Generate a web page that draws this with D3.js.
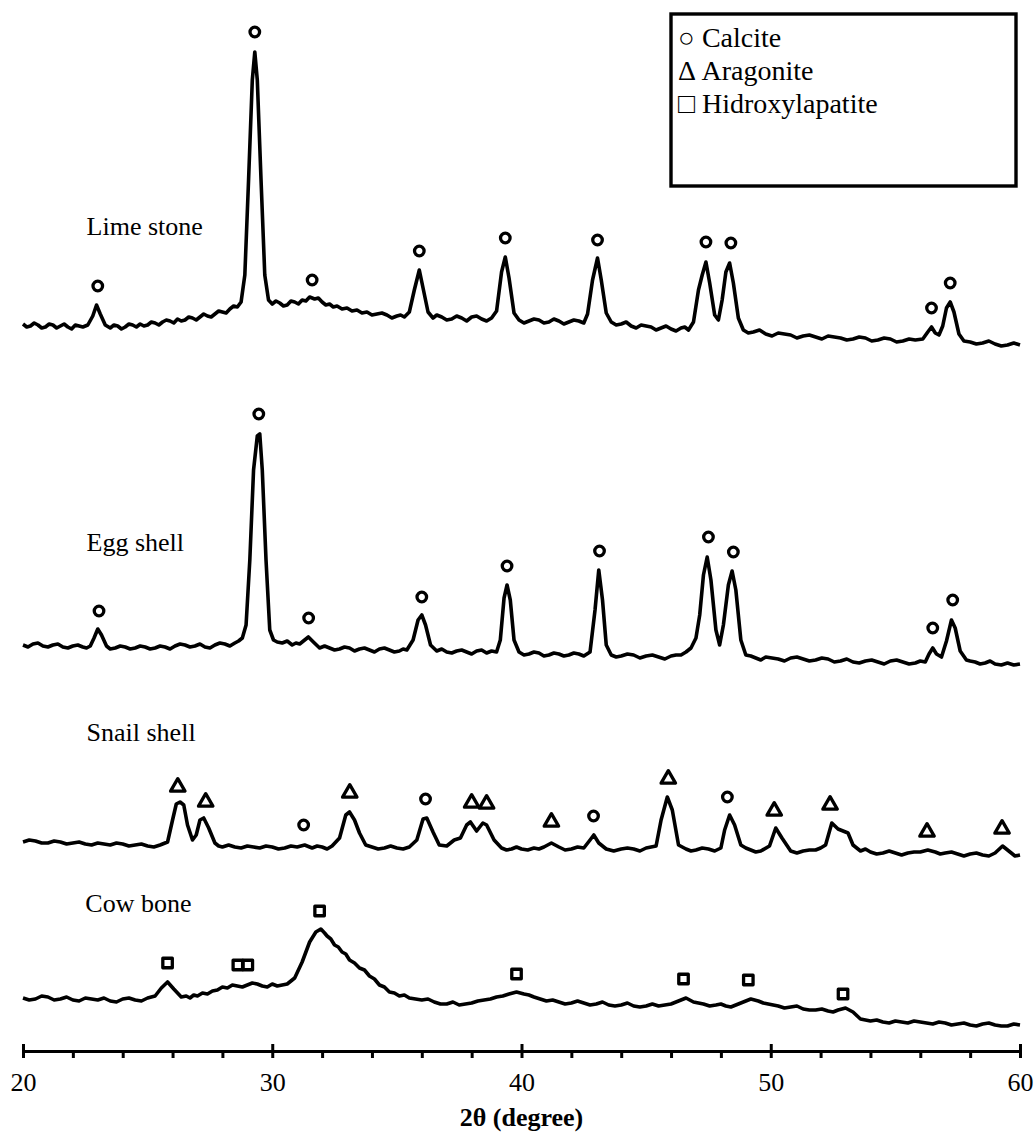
<!DOCTYPE html>
<html>
<head>
<meta charset="utf-8">
<script src="https://cdn.jsdelivr.net/npm/d3@7"></script>
<style>
  body { margin: 0; background: #fff; }
  svg { display: block; }
  text { font-family: "Liberation Serif", "Times New Roman", serif; }
</style>
</head>
<body>
<div id="chart"></div>
<script>
// XRD patterns, 2theta (deg) vs intensity (a.u., traces stacked)
const majorTicks = [20, 30, 40, 50, 60];
const minorTicks = [22, 24, 26, 28, 32, 34, 36, 38, 42, 44, 46, 48, 52, 54, 56, 58];

const limeStone = [
  [20.0,727],[20.15,724],[20.3,725],[20.45,728],[20.6,726],[20.75,723],[20.9,724],[21.05,727],[21.2,726],[21.35,723],
  [21.5,725],[21.65,727],[21.8,724],[21.95,722],[22.1,726],[22.25,725],[22.4,724],[22.6,726],
  [22.8,735],[22.95,746],[23.1,737],[23.3,726],[23.5,723],[23.65,726],[23.8,725],[23.95,722],[24.1,724],[24.25,727],
  [24.4,726],[24.55,724],[24.7,727],[24.85,725],[25.0,726],[25.15,729],
  [25.3,728],[25.45,726],[25.6,729],[25.75,731],[25.9,730],[26.05,728],[26.2,732],[26.35,730],[26.5,731],[26.65,734],
  [26.8,733],[26.95,731],[27.1,734],[27.25,737],[27.4,735],[27.55,734],[27.7,737],[27.85,740],[28.0,739],[28.15,738],
  [28.3,742],[28.45,745],[28.6,744],[28.75,749],[28.9,776],[29.05,871],[29.2,971],[29.3,999],[29.4,971],[29.55,871],[29.7,776],
  [29.85,751],[30.0,747],[30.15,750],[30.3,748],[30.45,745],[30.6,746],[30.75,750],[30.9,749],[31.05,747],[31.2,751],
  [31.35,750],[31.5,754],[31.7,752],[31.85,753],[32.0,749],[32.15,746],[32.3,747],[32.45,744],
  [32.6,745],[32.8,742],[33.0,743],[33.2,740],[33.4,741],[33.6,738],[33.8,739],[34.0,736],[34.2,737],[34.4,738],
  [34.6,736],[34.8,733],[35.0,735],[35.15,736],[35.3,734],[35.5,739],[35.7,761],
  [35.9,781],[36.05,763],[36.25,739],[36.45,733],[36.6,736],[36.8,734],[37.0,731],[37.2,732],[37.4,735],[37.6,733],
  [37.8,730],[38.0,734],[38.2,735],[38.4,732],[38.6,730],[38.8,733],
  [39.0,740],[39.2,779],[39.35,794],[39.5,773],[39.7,738],[39.9,731],[40.1,728],[40.3,730],[40.5,732],[40.7,731],
  [40.9,728],[41.1,729],[41.3,732],[41.5,730],[41.7,727],
  [41.9,729],[42.1,731],[42.3,730],[42.5,728],[42.65,737],[42.85,771],[43.05,793],[43.2,771],[43.4,738],[43.6,729],
  [43.8,726],[44.0,727],[44.2,729],[44.4,725],[44.6,723],
  [44.8,726],[45.0,725],[45.2,724],[45.4,721],[45.6,723],[45.8,725],[46.0,722],[46.2,720],[46.4,723],[46.55,724],
  [46.7,721],[46.9,729],[47.1,761],[47.25,776],[47.4,789],
  [47.55,768],[47.75,736],[47.9,731],[48.05,751],[48.2,779],[48.35,788],[48.5,768],[48.7,733],[48.9,721],[49.1,718],
  [49.3,719],[49.55,721],[49.8,717],[50.05,715],[50.3,718],[50.55,717],[50.8,716],[51.05,713],[51.3,715],[51.55,716],
  [51.8,714],[52.05,712],[52.3,715],[52.55,714],[52.8,713],[53.05,711],[53.3,712],[53.55,714],[53.8,713],[54.05,710],
  [54.3,711],[54.55,713],[54.8,712],[55.05,709],[55.3,710],[55.55,712],[55.8,711],[56.1,712],[56.3,719],[56.45,724],
  [56.6,718],[56.75,716],[56.9,725],[57.05,743],
  [57.2,749],[57.35,739],[57.55,717],[57.75,710],[58.0,709],[58.25,707],[58.5,708],[58.75,710],[59.0,707],[59.25,705],
  [59.5,706],[59.75,708],[60.0,706]
];

const eggShell = [
  [20.0,406],[20.2,404],[20.4,407],[20.6,408],[20.8,405],[21.0,404],[21.2,406],[21.4,407],[21.6,404],[21.8,403],
  [22.0,405],[22.2,406],[22.4,404],[22.55,403],[22.7,405],[22.85,413],[23.0,422],
  [23.15,416],[23.35,405],[23.5,402],[23.7,403],[23.9,405],[24.1,404],[24.3,402],[24.5,403],[24.7,405],[24.9,404],
  [25.1,402],[25.3,403],[25.5,405],[25.7,404],[25.9,402],[26.1,405],[26.3,407],[26.5,406],
  [26.7,404],[26.9,405],[27.1,407],[27.3,404],[27.5,403],[27.7,406],[27.9,408],[28.1,407],[28.3,405],[28.5,408],
  [28.65,410],[28.8,413],[28.95,426],[29.1,491],[29.25,581],[29.4,615],
  [29.5,617],[29.6,581],[29.75,491],[29.9,421],[30.05,411],[30.2,409],[30.4,408],[30.6,410],[30.8,406],[30.95,408],
  [31.1,407],[31.3,411],[31.45,414],
  [31.65,409],[31.9,403],[32.1,405],[32.3,403],[32.5,401],[32.7,402],[32.9,404],[33.1,403],[33.3,400],[33.5,402],
  [33.7,403],[33.9,401],[34.1,399],[34.3,402],[34.5,403],[34.7,401],[34.9,399],[35.1,400],
  [35.25,402],[35.4,401],[35.65,411],[35.85,431],[36.0,436],[36.15,426],[36.35,406],[36.6,400],[36.8,402],[37.0,399],
  [37.2,398],[37.4,400],[37.6,401],[37.8,399],
  [38.0,397],[38.2,400],[38.4,401],[38.6,398],[38.8,400],[39.0,399],[39.15,411],[39.3,453],[39.42,466],[39.55,451],
  [39.7,411],[39.9,399],[40.1,396],[40.3,397],
  [40.5,399],[40.7,398],[40.9,395],[41.1,396],[41.3,398],[41.5,397],[41.7,395],[41.9,396],[42.1,398],[42.3,397],
  [42.5,395],[42.75,399],[42.95,441],[43.1,481],[43.25,451],[43.4,406],
  [43.6,396],[43.8,394],[44.0,395],[44.25,397],[44.5,396],[44.75,393],[45.0,395],[45.25,396],[45.5,394],[45.75,392],
  [46.0,395],[46.2,396],[46.4,396],[46.6,399],[46.8,403],[47.0,413],[47.15,436],
  [47.3,476],[47.45,494],[47.6,471],[47.8,421],[47.95,406],[48.1,426],[48.3,466],[48.45,480],[48.6,461],[48.8,411],
  [49.0,396],[49.2,395],[49.4,393],[49.6,391],[49.8,394],[50.05,393],[50.3,392],[50.55,390],[50.8,393],[51.05,394],
  [51.3,392],[51.55,390],[51.8,391],[52.05,393],[52.3,392],[52.55,389],[52.8,390],[53.05,392],[53.3,389],
  [53.55,388],[53.8,390],[54.05,391],[54.3,389],[54.55,387],[54.8,390],[55.05,391],[55.3,389],[55.55,387],[55.8,388],
  [56.0,390],[56.2,389],[56.35,397],[56.5,403],[56.65,397],[56.85,394],
  [57.05,410],[57.25,431],[57.4,423],[57.6,400],[57.85,391],[58.0,390],[58.2,389],[58.4,387],[58.6,388],[58.8,390],
  [59.0,387],[59.25,386],[59.5,388],[59.75,386],[60.0,387]
];

const snailShell = [
  [20.0,209],[20.25,211],[20.5,210],[20.75,208],[21.0,208],[21.25,210],[21.5,209],[21.75,207],[22.0,208],[22.25,209],
  [22.5,207],[22.75,206],[23.0,208],[23.25,207],[23.5,206],[23.75,208],[24.0,207],[24.25,205],[24.5,206],[24.75,207],
  [25.0,205],[25.25,204],[25.5,206],[25.8,209],[26.0,231],[26.15,247],[26.3,249],[26.45,246],[26.6,226],[26.8,211],[26.95,216],
  [27.1,231],[27.25,233],[27.45,223],[27.7,208],[27.85,205],[28.0,204],[28.25,206],[28.5,204],[28.75,203],[29.0,205],
  [29.25,204],[29.5,203],[29.75,205],[30.0,204],[30.25,202],[30.5,203],[30.75,205],
  [31.0,204],[31.3,206],[31.6,203],[31.8,205],[32.0,204],[32.2,202],[32.4,205],[32.7,213],[32.95,236],[33.1,239],[33.3,231],[33.5,218],
  [33.75,206],[34.0,204],[34.25,202],[34.5,203],[34.75,205],[35.0,203],[35.25,202],[35.5,204],[35.8,211],[36.05,232],
  [36.2,233],[36.45,219],[36.7,206],
  [37.0,205],[37.3,211],[37.55,213],[37.8,226],[37.95,229],[38.2,220],[38.45,228],[38.6,226],[38.9,211],[39.2,203],
  [39.4,201],[39.6,202],[39.8,204],[40.0,202],[40.25,201],[40.5,203],[40.7,202],[40.9,204],[41.2,208],[41.5,204],
  [41.75,201],[42.0,202],[42.25,204],[42.5,203],[42.75,211],[42.9,216],
  [43.1,208],[43.4,202],[43.7,200],[44.0,202],[44.25,203],[44.5,202],[44.75,200],[45.0,203],[45.4,205],[45.6,231],
  [45.85,254],[46.05,241],[46.3,206],
  [46.6,202],[46.8,200],[47.0,201],[47.25,203],[47.5,202],[47.75,200],[48.0,203],[48.15,221],[48.35,236],[48.55,226],
  [48.8,206],[49.0,203],[49.2,201],[49.4,199],[49.6,200],
  [49.95,205],[50.2,223],[50.45,213],[50.8,200],[51.05,198],[51.3,200],[51.55,201],[51.8,201],[52.0,203],[52.2,206],
  [52.45,228],[52.7,222],[52.9,220],
  [53.1,218],[53.3,206],[53.6,200],[53.8,202],[54.0,199],[54.25,197],[54.5,198],[54.75,200],[55.0,198],[55.25,196],
  [55.5,198],[55.75,199],[56.0,199],[56.3,201],[56.6,199],
  [56.8,197],[57.0,198],[57.25,199],[57.5,197],[57.75,195],[58.0,197],[58.25,198],[58.5,196],[58.75,195],[59.0,198],
  [59.3,205],[59.55,200],[59.8,195],[60.0,196]
];

const cowBone = [
  [20.0,53],[20.25,51],[20.5,52],[20.75,55],[21.0,54],[21.25,51],[21.5,52],[21.75,54],[22.0,51],[22.25,50],
  [22.5,53],[22.75,52],[23.0,51],[23.25,53],[23.5,50],[23.75,49],[24.0,52],[24.25,53],[24.5,51],[24.75,50],
  [25.0,53],[25.3,55],[25.55,63],[25.8,69],[26.05,62],[26.35,54],[26.55,55],[26.7,53],[26.85,56],[27.0,55],
  [27.2,58],[27.4,57],[27.6,60],[27.8,61],[28.0,64],[28.2,63],[28.4,66],[28.6,65],[28.8,64],[29.0,66],[29.2,68],
  [29.4,67],[29.6,65],[29.8,64],[30.0,67],[30.2,65],[30.4,66],[30.6,67],[30.9,73],[31.2,89],[31.5,109],
  [31.75,119],[31.95,122],[32.1,118],[32.2,115],[32.35,112],[32.5,106],[32.65,104],[32.8,99],[32.95,97],[33.1,91],
  [33.3,88],[33.5,83],[33.7,81],[33.9,75],[34.1,72],[34.3,66],[34.5,64],[34.7,59],[34.9,58],
  [35.1,55],[35.3,56],[35.5,53],[35.75,52],[36.0,51],[36.25,52],[36.5,49],[36.75,47],[37.0,47],[37.25,49],[37.5,46],
  [37.75,47],[38.0,48],[38.25,50],[38.5,51],[38.75,52],[39.0,54],[39.25,55],[39.5,57],
  [39.8,59],[40.1,57],[40.3,56],[40.5,54],[40.75,52],[41.0,50],[41.25,51],[41.5,49],[41.75,47],[42.0,48],[42.25,50],
  [42.5,48],[42.75,46],[43.0,47],[43.25,49],[43.5,46],[43.75,45],[44.0,46],
  [44.25,48],[44.5,45],[44.75,44],[45.0,45],[45.25,47],[45.5,45],[45.75,46],[46.0,47],[46.3,50],[46.6,53],[46.9,49],
  [47.1,48],[47.3,47],[47.55,45],[47.8,46],[48.0,47],[48.2,45],
  [48.4,44],[48.6,46],[48.9,49],[49.2,52],[49.5,50],[49.7,48],[49.9,47],[50.1,46],[50.3,45],[50.55,43],[50.8,44],
  [51.05,45],[51.3,42],[51.55,41],[51.8,41],[52.05,42],[52.3,40],
  [52.5,39],[52.7,41],[53.0,43],[53.3,39],[53.6,32],[53.8,31],[54.0,30],[54.25,31],[54.5,29],[54.75,28],[55.0,30],
  [55.25,29],[55.5,28],[55.75,30],[56.0,29],[56.25,28],[56.5,27],
  [56.75,29],[57.0,28],[57.25,26],[57.5,27],[57.75,28],[58.0,26],[58.25,25],[58.5,27],[58.75,28],[59.0,26],
  [59.25,25],[59.5,25],[59.75,27],[60.0,26]
];

// phase markers: [2theta, intensity]
const calciteMarks = [
  [23.0,765],[29.3,1019],[31.6,771],[35.9,800],[39.35,813],[43.05,811],[47.4,809],[48.4,808],[56.45,743],[57.2,768],
  [23.05,440],[29.46,637],[31.46,433],[36.0,454],[39.42,485],[43.13,500],[47.5,514],[48.5,499],[56.5,423],[57.3,451],
  [31.26,226],[36.15,252],[42.89,235],[48.26,254]
];
const aragoniteMarks = [
  [26.21,264],[27.33,249],[33.11,258],[38.0,248],[38.6,247],[41.2,229],[45.89,272],[50.14,240],[52.38,246],
  [56.27,219],[59.28,222]
];
const hapMarks = [
  [25.8,88],[28.62,86],[29.02,86],[31.9,140],[39.8,77],[46.5,72],[49.1,71],[52.9,57]
];

const sampleNames = ["Lime stone", "Egg shell", "Snail shell", "Cow bone"];
const sampleLabelPos = [[22.55, 816], [22.55, 500], [22.55, 310], [22.5, 139]];
const legendLabels = ["\u25CB Calcite", "\u0394 Aragonite", "\u25A1 Hidroxylapatite"];

const W = 1035, H = 1135;
const svg = d3.select("#chart").append("svg")
    .attr("width", W)
    .attr("height", H);

const x = d3.scaleLinear().domain([20, 60]).range([23, 1020]);
const y = d3.scaleLinear().domain([0, 1040]).range([1051, 11]);

// traces
const line = d3.line()
    .x(d => x(d[0]))
    .y(d => y(d[1]));

[limeStone, eggShell, snailShell, cowBone].forEach(function (s) {
    svg.append("path")
        .datum(s)
        .attr("d", line)
        .attr("fill", "none")
        .attr("stroke", "#000")
        .attr("stroke-width", 3.6)
        .attr("stroke-linejoin", "round");
});

// phase symbols
function addMarks(data, type, size) {
    svg.append("g")
        .selectAll("path")
        .data(data)
        .enter()
        .append("path")
        .attr("transform", d => "translate(" + x(d[0]) + "," + y(d[1]) + ")")
        .attr("d", d3.symbol().type(type).size(size))
        .attr("fill", "none")
        .attr("stroke", "#000")
        .attr("stroke-width", 3.3)
        .attr("stroke-linejoin", "round");
}
addMarks(calciteMarks, d3.symbolCircle, 72);
addMarks(aragoniteMarks, d3.symbolTriangle, 90);
addMarks(hapMarks, d3.symbolSquare, 90);

// sample names
svg.append("g")
    .selectAll("text")
    .data(sampleNames)
    .enter()
    .append("text")
    .attr("x", (d, i) => x(sampleLabelPos[i][0]))
    .attr("y", (d, i) => y(sampleLabelPos[i][1]))
    .attr("font-size", 26)
    .text(d => d);

// x axis
const axisY = y(0);
const gx = svg.append("g")
    .attr("transform", "translate(0," + axisY + ")")
    .call(d3.axisBottom(x).tickValues(majorTicks).tickSize(7).tickSizeOuter(0).tickPadding(15));
gx.select(".domain").attr("stroke-width", 3.2);
gx.selectAll(".tick line").attr("y1", -7).attr("stroke-width", 3);
gx.selectAll(".tick text")
    .attr("font-size", 26)
    .attr("fill", "#000");

svg.append("g")
    .attr("transform", "translate(0," + axisY + ")")
    .call(d3.axisBottom(x).tickValues(minorTicks).tickSize(7).tickSizeOuter(0).tickFormat(""))
    .call(g => g.select(".domain").remove())
    .selectAll(".tick line").attr("stroke-width", 3);

svg.append("text")
    .attr("x", x(40))
    .attr("y", 1126)
    .attr("text-anchor", "middle")
    .attr("font-size", 26)
    .attr("font-weight", "bold")
    .text("2\u03B8 (degree)");

// legend
const legend = svg.append("g");
legend.append("rect")
    .attr("x", 671)
    .attr("y", 14)
    .attr("width", 345)
    .attr("height", 172)
    .attr("fill", "#fff")
    .attr("stroke", "#000")
    .attr("stroke-width", 3.4);
legend.selectAll("text")
    .data(legendLabels)
    .enter()
    .append("text")
    .attr("x", 678)
    .attr("y", (d, i) => 47 + i * 33)
    .attr("font-size", 28)
    .text(d => d);
</script>
</body>
</html>
